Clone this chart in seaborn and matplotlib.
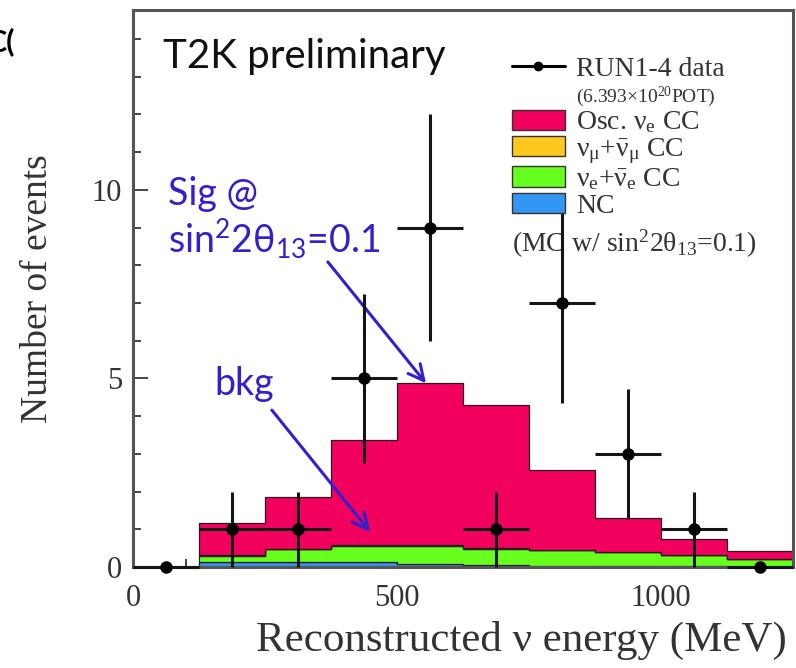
import numpy as np
import pandas as pd
import matplotlib
matplotlib.use("Agg")
import matplotlib.pyplot as plt
from matplotlib.lines import Line2D
from matplotlib.patches import Patch
from matplotlib.ticker import MultipleLocator
import seaborn as sns

# Reconstructed neutrino energy binning (MeV)
bin_edges = [0, 125, 250, 375, 500, 625, 750, 875, 1000, 1125, 1250]

# Observed events per bin with their uncertainties
data_counts = [0, 1, 1, 5, 9, 1, 7, 3, 1, 0]
data_errors = [0, 1, 1, 2.24, 3, 1, 2.65, 1.73, 1, 0]

# MC expectation (sin^2 2theta13 = 0.1) for the bins from 125 to 1250 MeV
mc_edges = bin_edges[1:]
osc_nue_cc = [0.85, 1.36, 2.79, 4.29, 3.79, 2.11, 0.91, 0.42, 0.21]
numu_cc = [0.02, 0.02, 0.03, 0.02, 0.02, 0.01, 0.01, 0.01, 0.01]
beam_nue_cc = [0.16, 0.34, 0.43, 0.47, 0.43, 0.41, 0.37, 0.29, 0.20]
nc = [0.13, 0.13, 0.13, 0.09, 0.05, 0.03, 0.02, 0.02, 0.01]

components = ["Osc. nue CC", "numu CC", "beam nue CC", "NC"]
colors = ["#f2005e", "#ffc81e", "#66ff1e", "#3396f5"]

edges = np.asarray(bin_edges, dtype=float)
centers = 0.5 * (edges[:-1] + edges[1:])
half_widths = 0.5 * np.diff(edges)
mc_centers = centers[1:]

mc = pd.DataFrame({
    "energy": np.tile(mc_centers, len(components)),
    "events": np.concatenate([osc_nue_cc, numu_cc, beam_nue_cc, nc]),
    "component": np.repeat(components, len(mc_centers)),
})

sns.set_theme(style="ticks")
plt.rcParams["font.family"] = ["Liberation Serif", "DejaVu Serif"]
plt.rcParams["mathtext.default"] = "regular"

fig = plt.figure(figsize=(7.96, 6.68), dpi=100)
ax = fig.add_axes([133 / 796, 1 - 567 / 668, 660 / 796, 557 / 668])

sns.histplot(data=mc, x="energy", weights="events", hue="component",
             hue_order=components, palette=colors, multiple="stack",
             bins=mc_edges, element="step", alpha=1, linewidth=0.9,
             edgecolor="#2a1a1a", legend=False, ax=ax)

ax.errorbar(centers, data_counts, xerr=half_widths, yerr=data_errors,
            fmt="o", color="black", ecolor="#151515", ms=8, elinewidth=2.2,
            capsize=0, zorder=5, clip_on=False)

ax.set_xlim(0, 1250)
ax.set_ylim(0, 14.77)
ax.xaxis.set_major_locator(MultipleLocator(500))
ax.xaxis.set_minor_locator(MultipleLocator(100))
ax.yaxis.set_major_locator(MultipleLocator(5))
ax.yaxis.set_minor_locator(MultipleLocator(1))
ax.tick_params(which="both", direction="in", color="#444444", width=1.4,
               labelsize=22, labelcolor="#333333")
ax.tick_params(which="major", length=11)
ax.tick_params(which="minor", length=6)
ax.tick_params(axis="x", pad=12)
ax.tick_params(axis="y", pad=8)
for spine in ax.spines.values():
    spine.set_visible(True)
    spine.set_color("#555555")
    spine.set_linewidth(2.2)

ax.set_xlabel("Reconstructed ν energy (MeV)", fontsize=31, color="#333333",
              labelpad=6, loc="right")
ax.xaxis.label.set_x(0.99)
ax.set_ylabel("Number of events", fontsize=27, color="#333333", labelpad=26)

# Legend
handles = [
    Line2D([], [], color="black", lw=2.2, marker="o", ms=6),
    Line2D([], [], linestyle="none"),
]
for c in colors:
    handles.append(Patch(facecolor=c, edgecolor="#333333", linewidth=1))
labels = [
    "RUN1-4 data",
    r"(6.393×10$^{20}$POT)",
    r"Osc. $ν_e$ CC",
    r"$ν_μ$+$\bar{ν}_μ$ CC",
    r"$ν_e$+$\bar{ν}_e$ CC",
    "NC",
]
leg = ax.legend(handles, labels, loc="upper left",
                bbox_to_anchor=(0.574, 0.918), frameon=False,
                borderpad=0, borderaxespad=0, handlelength=1.9,
                handleheight=0.75, handletextpad=0.42, labelspacing=0.02,
                prop={"family": "Liberation Serif", "size": 20})
for t in leg.get_texts():
    t.set_color("#333333")
leg.get_texts()[1].set_fontsize(14)

ax.text(0.574, 0.566, r"(MC w/ sin$^2$2θ$_{13}$=0.1)",
        transform=ax.transAxes, fontsize=20, color="#333333",
        family="Liberation Serif", va="baseline", ha="left")

# Annotations
sans = ["Lato", "DejaVu Sans"]
ax.text(0.045, 0.896, "T2K preliminary", transform=ax.transAxes,
        fontsize=29, family=sans, color="#111111", va="baseline")

blue = "#3320cc"
ax.text(0.053, 0.650, "Sig @", transform=ax.transAxes, fontsize=27,
        family=sans, color=blue, va="baseline")
ax.text(0.053, 0.564, r"sin$^2$2θ$_{13}$=0.1", transform=ax.transAxes,
        fontsize=27, family=sans, color=blue, va="baseline")
ax.text(0.124, 0.309, "bkg", transform=ax.transAxes, fontsize=27,
        family=sans, color=blue, va="baseline")

arrow = dict(arrowstyle="->", color=blue, lw=2.2, mutation_scale=28,
             shrinkA=0, shrinkB=0)
ax.annotate("", xy=(555, 4.87), xytext=(369, 8.09), arrowprops=arrow)
ax.annotate("", xy=(449, 0.93), xytext=(263, 4.16), arrowprops=arrow)

fig.text(15 / 796, 1 - 42 / 668, "C(", fontsize=22, family=sans,
         weight="bold", ha="right", va="center", color="black")

fig.savefig("out.png", dpi=100)
